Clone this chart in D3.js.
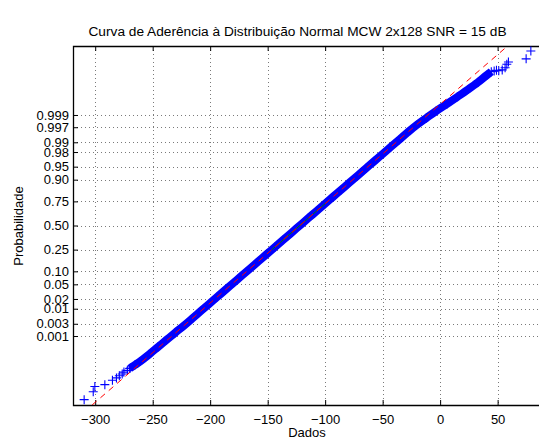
<!DOCTYPE html>
<html>
<head>
<meta charset="utf-8">
<script src="https://cdn.jsdelivr.net/npm/d3@7"></script>
<style>
  html, body { margin: 0; padding: 0; background: #fff; }
  svg { display: block; }
  text { font-family: "Liberation Sans", Arial, Helvetica, sans-serif; fill: #000; }
</style>
</head>
<body>
<svg id="chart" width="539" height="442"></svg>
<script>
// ---------------- data ----------------
const titleText = "Curva de Aderência à Distribuição Normal MCW 2x128 SNR = 15 dB";
const xLabelText = "Dados";
const yLabelText = "Probabilidade";

const xTicks = [-300, -250, -200, -150, -100, -50, 0, 50];
const yTickProbs = [0.001, 0.003, 0.01, 0.02, 0.05, 0.10, 0.25, 0.50, 0.75, 0.90, 0.95, 0.98, 0.99, 0.997, 0.999];
const yTickLabels = ["0.001", "0.003", "0.01", "0.02", "0.05", "0.10", "0.25", "0.50", "0.75", "0.90", "0.95", "0.98", "0.99", "0.997", "0.999"];

// isolated points in the lower tail: data value / plotting probability
const lowTailValues = [-309.6, -301.7, -300.3, -291.6, -285.0, -281.5, -279, -276.5, -275, -272, -269.5];
const lowTailProbs  = [5.6e-7, 1.66e-6, 3.4e-6, 4.3e-6, 7.5e-6, 1.02e-5, 1.33e-5, 1.66e-5, 2.07e-5, 2.56e-5, 3.4e-5];

// dense body of the sample (quantiles read along the band)
const bodyValues = [-270, -265.5, -261, -253, -245.5, -238, -230.5, -222.8, -215.6, -208.4, -201.2, -194,
  -186.8, -179.6, -172.4, -165.2, -158, -150.8, -143.6, -136.4, -129.2, -122, -114.8, -107.6, -100.4,
  -93.2, -86, -78.8, -71.6, -64.4, -57.2, -50, -42.8, -35.6, -28.4, -20.8, -12.2, -3.5, 6, 15.2, 24.3,
  32.8, 40.5, 44.5];
const bodyProbs = [3.17e-5, 4.8e-5, 7.2e-5, 1.59e-4, 3.37e-4, 6.87e-4, 1.35e-3, 2.56e-3, 4.66e-3, 8.2e-3,
  0.0139, 0.02275, 0.0359, 0.0548, 0.0808, 0.1151, 0.1587, 0.2119, 0.2743, 0.3446, 0.4207, 0.5, 0.5793,
  0.6554, 0.7257, 0.7881, 0.8413, 0.8849, 0.9192, 0.9452, 0.9641, 0.97725, 0.9861, 0.9918, 0.99534,
  0.99744, 0.99865, 0.99931, 0.999663, 0.999841, 0.999928, 0.9999683, 0.9999867, 0.9999915];

// isolated points in the upper tail
const highTailValues = [47, 49, 51, 54, 56.5, 58, 59.4, 74.8, 78.9];
const highTailProbs  = [0.9999921, 0.9999928, 0.9999925, 0.9999932, 0.9999948, 0.99999676, 0.99999756, 0.99999842, 0.99999947];

// fitted normal reference line (through the quartiles)
const fitMean = -122;
const fitSigma = 36;
const quartileProbs = [0.25, 0.75];

// axis limits
const xLimits = [-319.3, 88.6];
const probLimits = [2.6e-7, 1 - 2.6e-7];

// ---------------- helpers ----------------
// inverse standard normal CDF (Acklam)
function norminv(p) {
  const a = [-3.969683028665376e+01, 2.209460984245205e+02, -2.759285104469687e+02, 1.383577518672690e+02, -3.066479806614716e+01, 2.506628277459239e+00];
  const b = [-5.447609879822406e+01, 1.615858368580409e+02, -1.556989798598866e+02, 6.680131188771972e+01, -1.328068155288572e+01];
  const c = [-7.784894002430293e-03, -3.223964580411365e-01, -2.400758277161838e+00, -2.549732539343734e+00, 4.374664141464968e+00, 2.938163982698783e+00];
  const d = [7.784695709041462e-03, 3.224671290700398e-01, 2.445134137142996e+00, 3.754408661907416e+00];
  const pl = 0.02425, ph = 1 - pl;
  let q, r;
  if (p < pl) {
    q = Math.sqrt(-2 * Math.log(p));
    return (((((c[0]*q+c[1])*q+c[2])*q+c[3])*q+c[4])*q+c[5]) / ((((d[0]*q+d[1])*q+d[2])*q+d[3])*q+1);
  } else if (p <= ph) {
    q = p - 0.5; r = q*q;
    return (((((a[0]*r+a[1])*r+a[2])*r+a[3])*r+a[4])*r+a[5])*q / (((((b[0]*r+b[1])*r+b[2])*r+b[3])*r+b[4])*r+1);
  } else {
    q = Math.sqrt(-2 * Math.log(1 - p));
    return -(((((c[0]*q+c[1])*q+c[2])*q+c[3])*q+c[4])*q+c[5]) / ((((d[0]*q+d[1])*q+d[2])*q+d[3])*q+1);
  }
}

// ---------------- layout ----------------
const plot = { left: 73, top: 46, right: 542, bottom: 405 };
const svg = d3.select("#chart");

const x = d3.scaleLinear().domain(xLimits).range([plot.left, plot.right]);
const zScale = d3.scaleLinear().domain([norminv(probLimits[0]), norminv(probLimits[1])]).range([plot.bottom, plot.top]);
const y = p => zScale(norminv(p));

svg.append("defs").append("clipPath").attr("id", "clip")
  .append("rect").attr("x", plot.left).attr("y", plot.top)
  .attr("width", plot.right - plot.left).attr("height", plot.bottom - plot.top);

// grid
const grid = svg.append("g").attr("stroke", "#7a7a7a").attr("stroke-width", 1).attr("stroke-dasharray", "1,3");
grid.selectAll("line.gx").data(xTicks).join("line")
  .attr("x1", d => Math.round(x(d)) + 0.5).attr("x2", d => Math.round(x(d)) + 0.5)
  .attr("y1", plot.top).attr("y2", plot.bottom);
grid.selectAll("line.gy").data(yTickProbs).join("line")
  .attr("y1", d => Math.round(y(d)) + 0.5).attr("y2", d => Math.round(y(d)) + 0.5)
  .attr("x1", plot.left).attr("x2", plot.right);

// axes
const xAxisB = d3.axisBottom(x).tickValues(xTicks).tickSizeInner(-5).tickSizeOuter(0).tickPadding(10);
const xAxisT = d3.axisTop(x).tickValues(xTicks).tickSizeInner(-5).tickSizeOuter(0).tickFormat("");
const yAxisL = d3.axisLeft(zScale).tickValues(yTickProbs.map(norminv)).tickSizeInner(-5).tickSizeOuter(0)
  .tickPadding(4).tickFormat((d, i) => yTickLabels[i]);

function styleAxis(g) {
  g.select(".domain").remove();
  g.selectAll(".tick line").attr("stroke", "#000");
  g.selectAll("text").attr("font-size", "13px").attr("font-family", "Liberation Sans, Arial, sans-serif").attr("fill", "#000");
}
svg.append("g").attr("transform", `translate(0,${plot.bottom})`).call(xAxisB).call(styleAxis);
svg.append("g").attr("transform", `translate(0,${plot.top})`).call(xAxisT).call(styleAxis);
svg.append("g").attr("transform", `translate(${plot.left},0)`).call(yAxisL).call(styleAxis);

// box
svg.append("path")
  .attr("d", `M${plot.right},${plot.top + 0.5}H${plot.left + 0.5}V${plot.bottom + 0.5}H${plot.right}`)
  .attr("fill", "none").attr("stroke", "#000").attr("stroke-width", 1.3);

// data
const dataG = svg.append("g").attr("clip-path", "url(#clip)");
const body = bodyValues.map((v, i) => [v, bodyProbs[i]]);
const tails = lowTailValues.map((v, i) => [v, lowTailProbs[i]])
  .concat(highTailValues.map((v, i) => [v, highTailProbs[i]]));

dataG.append("path").datum(body)
  .attr("d", d3.line().x(d => x(d[0])).y(d => y(d[1])).curve(d3.curveMonotoneY))
  .attr("fill", "none").attr("stroke", "#0000ff").attr("stroke-width", 8).attr("stroke-linecap", "butt").attr("stroke-linejoin", "round");

const plus = 4.5;
dataG.selectAll("path.pt").data(body.concat(tails)).join("path")
  .attr("d", d => { const cx = x(d[0]), cy = y(d[1]);
    return `M${cx - plus},${cy}H${cx + plus}M${cx},${cy - plus}V${cy + plus}`; })
  .attr("stroke", "#0000ff").attr("stroke-width", 1.1).attr("fill", "none");

// fitted line: solid green between quartiles, red dashed across the whole range
const fitX = p => fitMean + fitSigma * norminv(p);
dataG.append("line")
  .attr("x1", x(fitX(quartileProbs[0]))).attr("y1", y(quartileProbs[0]))
  .attr("x2", x(fitX(quartileProbs[1]))).attr("y2", y(quartileProbs[1]))
  .attr("stroke", "#008000").attr("stroke-width", 1);
dataG.append("line")
  .attr("x1", x(fitX(probLimits[0]))).attr("y1", y(probLimits[0]))
  .attr("x2", x(fitX(probLimits[1]))).attr("y2", y(probLimits[1]))
  .attr("stroke", "#ff0000").attr("stroke-width", 1).attr("stroke-dasharray", "6,5");

// labels
svg.append("text").attr("x", 297.5).attr("y", 35.5).attr("text-anchor", "middle")
  .attr("font-size", "13.7px").text(titleText);
svg.append("text").attr("x", 307).attr("y", 437).attr("text-anchor", "middle")
  .attr("font-size", "13px").text(xLabelText);
svg.append("text").attr("transform", "translate(23,226) rotate(-90)").attr("text-anchor", "middle")
  .attr("font-size", "13px").text(yLabelText);
</script>
</body>
</html>
